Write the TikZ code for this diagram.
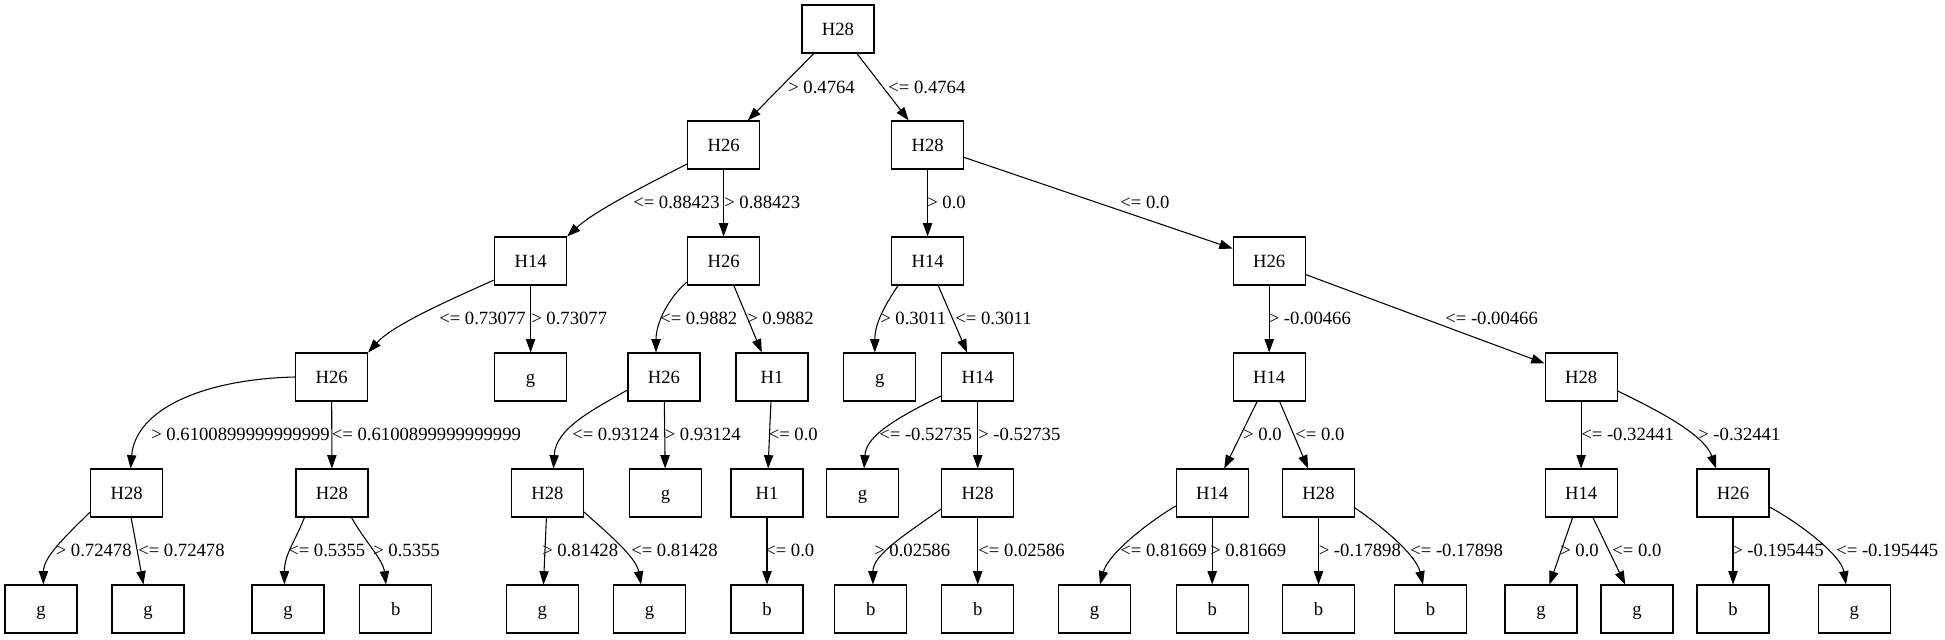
\documentclass[tikz,border=0pt]{standalone}
\usepackage{fontspec}
\setmainfont{Liberation Serif}
\usetikzlibrary{arrows.meta,calc}
\tikzset{
  box/.style={draw=black, line width=0.8pt, rectangle, minimum width=54pt, minimum height=36pt,
    inner sep=0pt, font=\fontsize{14pt}{16pt}\selectfont, text height=9.3pt, text depth=0pt},
  lbl/.style={anchor=west, inner sep=0pt, font=\fontsize{14pt}{16pt}\selectfont, text height=9.3pt, text depth=0pt},
  edge/.style={draw=black, line width=0.8pt, -{Triangle[length=10pt,width=7pt]}},
}
\begin{document}
\begin{tikzpicture}[x=0.75pt,y=-0.75pt]
\useasboundingbox (0,0) rectangle (1945,639);
% row 0
\node[box] (n0) at (838,29) {H28};
% row 1
\node[box] (n1) at (723.6,145) {H26};
\node[box] (n2) at (927.6,145) {H28};
% row 2
\node[box] (n3) at (530.6,261) {H14};
\node[box] (n4) at (723.6,261) {H26};
\node[box] (n5) at (927.6,261) {H14};
\node[box] (n6) at (1269.2,261) {H26};
% row 3
\node[box] (n7) at (331.6,377) {H26};
\node[box] (n8) at (530.6,377) {g};
\node[box] (n9) at (664,377) {H26};
\node[box] (n10) at (772,377) {H1};
\node[box] (n11) at (879.8,377) {g};
\node[box] (n12) at (977.7,377) {H14};
\node[box] (n13) at (1269.2,377) {H14};
\node[box] (n14) at (1581.1,377) {H28};
% row 4
\node[box] (n15) at (126.6,493) {H28};
\node[box] (n16) at (332,493) {H28};
\node[box] (n17) at (547.5,493) {H28};
\node[box] (n18) at (665.5,493) {g};
\node[box] (n19) at (767,493) {H1};
\node[box] (n20) at (862.6,493) {g};
\node[box] (n21) at (977.7,493) {H28};
\node[box] (n22) at (1212.2,493) {H14};
\node[box] (n23) at (1318.5,493) {H28};
\node[box] (n24) at (1581.1,493) {H14};
\node[box] (n25) at (1733,493) {H26};
% row 5
\node[box] (n26) at (41,609) {g};
\node[box] (n27) at (148,609) {g};
\node[box] (n28) at (288,609) {g};
\node[box] (n29) at (395.7,609) {b};
\node[box] (n30) at (542.4,609) {g};
\node[box] (n31) at (649.5,609) {g};
\node[box] (n32) at (767,609) {b};
\node[box] (n33) at (870.9,609) {b};
\node[box] (n34) at (977.7,609) {b};
\node[box] (n35) at (1094.6,609) {g};
\node[box] (n36) at (1212.2,609) {b};
\node[box] (n37) at (1318.5,609) {b};
\node[box] (n38) at (1430.5,609) {b};
\node[box] (n39) at (1541,609) {g};
\node[box] (n40) at (1637,609) {g};
\node[box] (n41) at (1733,609) {b};
\node[box] (n42) at (1854.3,609) {g};

% edges
\draw[edge] (n0) -- (n1);
\draw[edge] (n0) -- (n2);
\draw[edge] ($(n1.west)+(0,19)$) .. controls +(-45,23) and +(27,-25) .. (n3.north east);
\draw[edge] (n1) -- (n4);
\draw[edge] (n2) -- (n5);
\draw[edge] (n2) -- (n6);
\draw[edge] ($(n3.west)+(0,19)$) .. controls +(-40,18) and +(25,-28) .. (n7.north east);
\draw[edge] (n3) -- (n8);
\draw[edge] ($(n4.west)+(0,21)$) .. controls +(-18,15) and +(0,-30) .. ($(n9.north)+(-8,0)$);
\draw[edge] (n4) -- (n10);
\draw[edge] ($(n5.south west)+(7,0)$) .. controls +(-12,18) and +(0,-30) .. ($(n11.north)+(-5,0)$);
\draw[edge] (n5) -- (n12);
\draw[edge] (n6) -- (n13);
\draw[edge] (n6) -- (n14);
\draw[edge] (n7.west) .. controls +(-90,2) and +(5,-60) .. ($(n15.north)+(4,0)$);
\draw[edge] (n7) -- (n16);
\draw[edge] ($(n9.west)+(0,13)$) .. controls +(-35,20) and +(2,-40) .. ($(n17.north)+(6,0)$);
\draw[edge] (n9) -- (n18);
\draw[edge] (n10) -- (n19);
\draw[edge] ($(n12.west)+(0,19)$) .. controls +(-60,29) and +(2,-28) .. ($(n20.north)+(1.4,0)$);
\draw[edge] (n12) -- (n21);
\draw[edge] (n13) -- (n22);
\draw[edge] (n13) -- (n23);
\draw[edge] (n14) -- (n24);
\draw[edge] ($(n14.east)+(0,14)$) .. controls +(35,17) and +(-12,-35) .. ($(n25.north)+(-17,0)$);
\draw[edge] ($(n15.west)+(0,19)$) .. controls +(-22,22) and +(0,-28) .. ($(n26.north)+(2.4,0)$);
\draw[edge] (n15) -- (n27);
\draw[edge] ($(n16.south west)+(9,0)$) .. controls +(-10,25) and +(0,-30) .. ($(n28.north)+(-3.6,0)$);
\draw[edge] ($(n16.south east)+(-17,0)$) .. controls +(12,22) and +(-3,-25) .. ($(n29.north)+(-9.7,0)$);
\draw[edge] (n17) -- (n30);
\draw[edge] ($(n17.east)+(0,19)$) .. controls +(22,20) and +(-5,-28) .. ($(n31.north)+(-8.5,0)$);
\draw[edge] (n19) -- (n32);
\draw[edge] ($(n21.west)+(0,16)$) .. controls +(-35,25) and +(0,-30) .. ($(n33.north)+(2,0)$);
\draw[edge] (n21) -- (n34);
\draw[edge] ($(n22.west)+(0,13)$) .. controls +(-30,18) and +(8,-30) .. ($(n35.north)+(5.4,0)$);
\draw[edge] (n22) -- (n36);
\draw[edge] (n23) -- (n37);
\draw[edge] ($(n23.east)+(0,15)$) .. controls +(25,17) and +(-7,-30) .. ($(n38.north)+(-7.5,0)$);
\draw[edge] (n24) -- (n39);
\draw[edge] (n24) -- (n40);
\draw[edge] (n25) -- (n41);
\draw[edge] ($(n25.east)+(0,14)$) .. controls +(28,15) and +(-5,-30) .. ($(n42.north)+(-8.3,0)$);

% labels
\node[lbl] (l1) at (788,87) {> 0.4764};
\node[lbl] (l2) at (888,87) {<= 0.4764};
\node[lbl] (l3) at (633,202.5) {<= 0.88423};
\node[lbl] (l4) at (724,202.5) {> 0.88423};
\node[lbl] (l5) at (927,202.5) {> 0.0};
\node[lbl] (l6) at (1120,202.5) {<= 0.0};
\node[lbl] (l7) at (439,318.3) {<= 0.73077};
\node[lbl] (l8) at (531,318.3) {> 0.73077};
\node[lbl] (l9) at (660,318.3) {<= 0.9882};
\node[lbl] (l10) at (747,318.3) {> 0.9882};
\node[lbl] (l11) at (880,318.3) {> 0.3011};
\node[lbl] (l12) at (955,318.3) {<= 0.3011};
\node[lbl] (l13) at (1268.5,318.3) {> -0.00466};
\node[lbl] (l14) at (1445,318.3) {<= -0.00466};
\node[lbl] (l15) at (151,434.5) {> 0.6100899999999999};
\node[lbl] (l16) at (331.6,434.5) {<= 0.6100899999999999};
\node[lbl] (l17) at (572,434.5) {<= 0.93124};
\node[lbl] (l18) at (664.5,434.5) {> 0.93124};
\node[lbl] (l19) at (768.5,434.5) {<= 0.0};
\node[lbl] (l20) at (879,434.5) {<= -0.52735};
\node[lbl] (l21) at (978,434.5) {> -0.52735};
\node[lbl] (l22) at (1243,434.5) {> 0.0};
\node[lbl] (l23) at (1295,434.5) {<= 0.0};
\node[lbl] (l24) at (1581,434.5) {<= -0.32441};
\node[lbl] (l25) at (1698,434.5) {> -0.32441};
\node[lbl] (l26) at (55.5,550.3) {> 0.72478};
\node[lbl] (l27) at (138,550.3) {<= 0.72478};
\node[lbl] (l28) at (288,550.3) {<= 0.5355};
\node[lbl] (l29) at (373,550.3) {> 0.5355};
\node[lbl] (l30) at (542,550.3) {> 0.81428};
\node[lbl] (l31) at (631,550.3) {<= 0.81428};
\node[lbl] (l32) at (765,550.3) {<= 0.0};
\node[lbl] (l33) at (874,550.3) {> 0.02586};
\node[lbl] (l34) at (978,550.3) {<= 0.02586};
\node[lbl] (l35) at (1120,550.3) {<= 0.81669};
\node[lbl] (l36) at (1210,550.3) {> 0.81669};
\node[lbl] (l37) at (1318.5,550.3) {> -0.17898};
\node[lbl] (l38) at (1410,550.3) {<= -0.17898};
\node[lbl] (l39) at (1560,550.3) {> 0.0};
\node[lbl] (l40) at (1612,550.3) {<= 0.0};
\node[lbl] (l41) at (1732,550.3) {> -0.195445};
\node[lbl] (l42) at (1836,550.3) {<= -0.195445};
\end{tikzpicture}
\end{document}
